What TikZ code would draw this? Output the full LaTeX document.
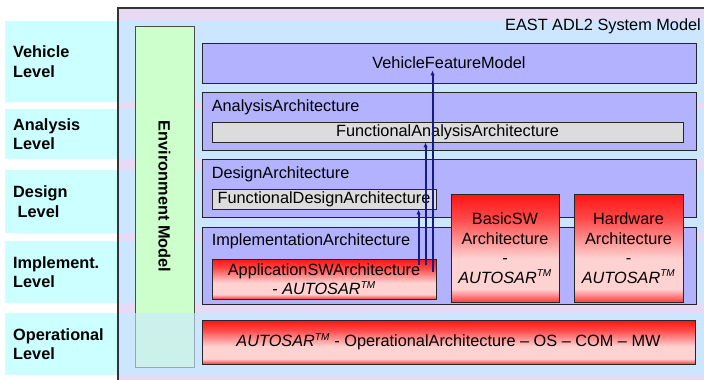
\documentclass[tikz,border=0pt]{standalone}
\usepackage{fontspec}
\setmainfont{Liberation Sans}
\usetikzlibrary{calc,arrows.meta}

\definecolor{bandcyan}{RGB}{204,255,255}
\definecolor{bandblue}{RGB}{205,230,255}
\definecolor{sysfill}{RGB}{230,218,245}
\definecolor{archblue}{RGB}{178,178,255}
\definecolor{funcgray}{RGB}{220,220,220}
\definecolor{envgreen}{RGB}{204,255,204}
\definecolor{redtop}{RGB}{255,20,20}
\definecolor{redupper}{RGB}{255,70,70}
\definecolor{redpale}{RGB}{255,210,210}
\definecolor{redbot}{RGB}{255,60,60}
\definecolor{tracenavy}{RGB}{22,28,128}

% red to pale to red, top to bottom (box spans 25bp..75bp)
\pgfdeclareverticalshading{redfade}{100bp}{color(0bp)=(redbot); color(25bp)=(redbot);
    color(31bp)=(redpale); color(45bp)=(redpale); color(64bp)=(redupper);
    color(75bp)=(redtop); color(100bp)=(redtop)}

\newcommand{\diagfont}{\fontsize{16.3}{19.5}\selectfont}
\newcommand{\autosar}{\textit{AUTOSAR}\textsuperscript{\fontsize{10}{10}\selectfont\itshape TM}}

\begin{document}
\begin{tikzpicture}[x=1pt,y=-1pt,inner sep=0pt,font=\diagfont]
    \tikzstyle{band}=[fill=bandcyan]
    \tikzstyle{inner band}=[fill=bandblue]
    \tikzstyle{level}=[anchor=west, align=left, font=\diagfont\bfseries]
    \tikzstyle{sysbox}=[draw=black!80, line width=1.2pt]
    \tikzstyle{arch box}=[draw=black!85, line width=0.9pt, fill=archblue]
    \tikzstyle{box title}=[anchor=base west]
    \tikzstyle{func box}=[draw=black!85, line width=0.9pt, fill=funcgray]
    \tikzstyle{autosar box}=[draw=black!85, line width=0.9pt, align=center, shading=redfade]
    \tikzstyle{env box}=[draw=black!70, line width=0.8pt, fill=envgreen, font=\diagfont\bfseries]
    \tikzstyle{trace}=[-{Latex[length=5pt,width=4.5pt]}, draw=tracenavy, line width=2pt]

    \useasboundingbox (0,0) rectangle (704,380);

    % System model background
    \fill[sysfill] (118,8) rectangle (704,380);

    % Level bands with their names
    \foreach \name/\ya/\yb/\txt in {veh/21/102/{Vehicle\\Level},
                                    ana/109/159/{Analysis\\Level},
                                    des/170/233/{Design\\\hspace*{4.5pt}Level},
                                    imp/241/303/{Implement.\\Level},
                                    opl/313/375/{Operational\\Level}}
    {
        \fill[band] (5,\ya) rectangle (118,\yb);
        \fill[inner band] (118,\ya) rectangle (704,\yb);
        \node[level] (\name) at (13,{(\ya+\yb)/2}) {\txt};
    }

    % Environment model
    \node[env box, rotate=-90, minimum width=341pt, minimum height=59pt]
        (env) at (164.5,196.5) {Environment Model};
    \fill[inner band, opacity=0.6] (118,313) rectangle (704,375);

    % System model frame
    \draw[sysbox] (118,390) -- (118,8) -- (714,8);
    \node[anchor=base east] (sys) at (701,30) {EAST ADL2 System Model};

    % Architecture levels
    \node[arch box, minimum width=494pt, minimum height=40pt] (vfm) at (449,63) {VehicleFeatureModel};

    \node[arch box, minimum width=494pt, minimum height=58pt] (aa) at (449,121) {};
    \node[box title] (aa-title) at ([shift={(10,20)}]aa.north west) {AnalysisArchitecture};
    \node[func box, minimum width=471pt, minimum height=20pt] (faa) at (447.5,132) {FunctionalAnalysisArchitecture};

    \node[arch box, minimum width=494pt, minimum height=58pt] (da) at (449,188) {};
    \node[box title] (da-title) at ([shift={(10,20)}]da.north west) {DesignArchitecture};
    \node[func box, minimum width=224pt, minimum height=20pt] (fda) at (324,199) {FunctionalDesignArchitecture};

    \node[arch box, minimum width=494pt, minimum height=77pt] (ia) at (449,265.5) {};
    \node[box title] (ia-title) at ([shift={(10,19)}]ia.north west) {ImplementationArchitecture};
    \node[autosar box, minimum width=224pt, minimum height=40pt] (app) at (324,279)
        {ApplicationSWArchitecture\\- \autosar};

    \node[autosar box, minimum width=108pt, minimum height=108pt] (bsw) at (505,248)
        {BasicSW\\Architecture\\-\\\autosar};
    \node[autosar box, minimum width=109pt, minimum height=108pt] (hw) at (628.5,248)
        {Hardware\\Architecture\\-\\\autosar};

    \node[autosar box, minimum width=493pt, minimum height=44pt] (op) at (448.5,342)
        {\autosar{} - OperationalArchitecture – OS – COM – MW};

    % Traces from the application software upwards
    \draw[trace] ([shift={(207,6)}]app.north west) -- ([xshift=207pt]app.north west |- fda.south);
    \draw[trace] ([shift={(214,6)}]app.north west) -- ([xshift=214pt]app.north west |- faa.south);
    \draw[trace] ([shift={(221,13)}]app.north west) -- ([shift={(221,-13)}]app.north west |- vfm.south);
\end{tikzpicture}
\end{document}
